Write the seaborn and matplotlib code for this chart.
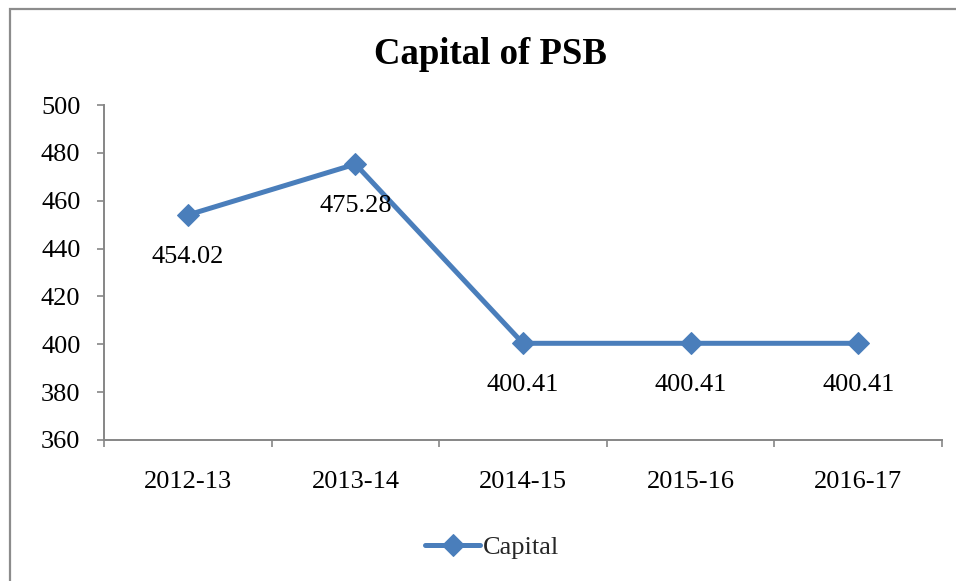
import matplotlib
matplotlib.use("Agg")
import matplotlib.pyplot as plt
import seaborn as sns
import numpy as np
import pandas as pd
from matplotlib.patches import Rectangle

years = ["2012-13", "2013-14", "2014-15", "2015-16", "2016-17"]
capital = [454.02, 475.28, 400.41, 400.41, 400.41]
series_name = "Capital"
title = "Capital of PSB"
y_ticks = [360, 380, 400, 420, 440, 460, 480, 500]

sns.set_theme(style="white")
plt.rcParams["font.family"] = ["Liberation Serif", "DejaVu Serif"]

W, H = 956, 581
fig = plt.figure(figsize=(W / 100, H / 100), dpi=100)
fig.patch.set_facecolor("white")

# outer chart frame
fig.patches.append(Rectangle((10 / W, -0.1), 1.2, 1 - 9 / H + 0.1, transform=fig.transFigure,
                             fill=False, edgecolor="#8c8c8c", linewidth=1.6, zorder=0))

ax = fig.add_axes([104 / W, 1 - 440 / H, (942 - 104) / W, (440 - 105) / H])
ax.set_facecolor("none")

df = pd.DataFrame({"Year": years, "Value": capital})
line_color = "#4A7EBB"
sns.lineplot(data=df, x="Year", y="Value", ax=ax, color=line_color, linewidth=3.6,
             marker="D", markersize=11, markeredgecolor=line_color, label=series_name)

for i, v in enumerate(capital):
    ax.annotate(f"{v:.2f}", (i, v), xytext=(0, -30), textcoords="offset points",
                ha="center", va="center", fontsize=19, color="black")

ax.set_xlim(-0.5, len(years) - 0.5)
ax.set_ylim(360, 500)
ax.set_yticks(y_ticks)
ax.set_yticklabels([str(t) for t in y_ticks])
ax.set_xticks(range(len(years)))
ax.set_xticklabels(years)
ax.set_xticks(np.arange(-0.5, len(years), 1), minor=True)
ax.set_xlabel("")
ax.set_ylabel("")

for s in ["top", "right"]:
    ax.spines[s].set_visible(False)
for s in ["left", "bottom"]:
    ax.spines[s].set_color("#868686")
    ax.spines[s].set_linewidth(1.4)

ax.tick_params(axis="y", which="major", direction="out", length=5, width=1.2,
               color="#868686", labelsize=19, pad=12, left=True)
ax.tick_params(axis="x", which="major", length=0, labelsize=19, pad=22, bottom=True)
ax.tick_params(axis="x", which="minor", direction="out", length=5, width=1.2,
               color="#868686", bottom=True)
for lbl in ax.get_xticklabels() + ax.get_yticklabels():
    lbl.set_color("black")

fig.text(490 / W, 1 - 55 / H, title, ha="center", va="center", fontsize=26.5,
         fontweight="bold", color="black")

ax.get_legend().remove()
leg = fig.legend(*ax.get_legend_handles_labels(), loc="center left",
                 bbox_to_anchor=(425 / W, 1 - 547 / H), frameon=False, fontsize=19,
                 handlelength=2.1, handletextpad=0.1, borderpad=0, borderaxespad=0)

fig.savefig("out.png", dpi=100, facecolor="white")
